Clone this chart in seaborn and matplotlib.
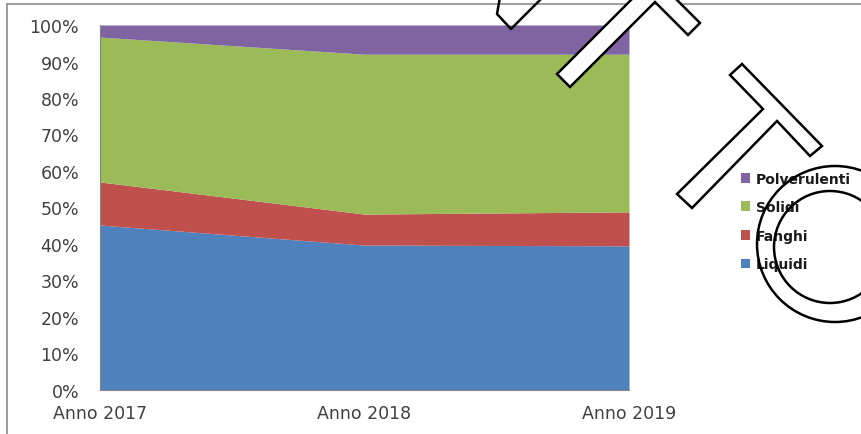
import numpy as np
import pandas as pd
import matplotlib
matplotlib.use("Agg")
import matplotlib.pyplot as plt
import seaborn as sns
from matplotlib.patches import Polygon, Patch, Ellipse
from matplotlib.lines import Line2D
from matplotlib.ticker import PercentFormatter

# data (percent of total)
anni = ["Anno 2017", "Anno 2018", "Anno 2019"]
liquidi = [45.2, 39.7, 39.5]
fanghi = [11.8, 8.5, 9.3]
solidi = [39.7, 43.8, 43.2]
polverulenti = [3.3, 8.0, 8.0]

serie = ["Liquidi", "Fanghi", "Solidi", "Polverulenti"]
colori = ["#4F81BD", "#C0504D", "#9BBB59", "#8064A2"]

df = pd.DataFrame({"Liquidi": liquidi, "Fanghi": fanghi,
                   "Solidi": solidi, "Polverulenti": polverulenti}, index=anni)
df = df.div(df.sum(axis=1), axis=0) * 100

sns.set_style("white")
plt.rcParams["font.family"] = ["DejaVu Sans"]

fig = plt.figure(figsize=(8.61, 4.35), dpi=100)
ax = fig.add_axes([100/861, 44/435, 529/861, 365/435])

x = np.arange(len(anni))
ax.stackplot(x, *[df[s].values for s in serie], colors=colori, linewidth=0)

ax.set_xlim(0, 2)
ax.set_ylim(0, 100)
ax.set_yticks(np.arange(0, 101, 10))
ax.yaxis.set_major_formatter(PercentFormatter(decimals=0))
ax.set_xticks(x)
ax.set_xticklabels(anni)
ax.tick_params(axis="both", length=4, width=0.8, color="#868686",
               labelsize=12.5, labelcolor="#404040")
ax.tick_params(axis="y", pad=11)
ax.tick_params(axis="x", pad=6)
for s in ["top", "right"]:
    ax.spines[s].set_visible(False)
ax.spines["left"].set_color("#868686")
ax.spines["bottom"].set_color("#868686")
ax.spines["left"].set_linewidth(0.8)
ax.spines["bottom"].set_linewidth(0.8)

# legend (reverse order like Excel)
handles = [Patch(facecolor=c, edgecolor="none") for c in colori][::-1]
leg = fig.legend(handles, serie[::-1], loc="upper left",
                 bbox_to_anchor=(728/861, 1 - 160/435), frameon=False,
                 handlelength=0.7, handleheight=0.7, handletextpad=0.4,
                 labelspacing=1.05, prop={"size": 10, "weight": "bold"})
for t in leg.get_texts():
    t.set_color("#1a1a1a")

# outer chart border
fig.add_artist(Line2D([7/861, 7/861], [0, 1 - 5/435], transform=fig.transFigure,
                      color="#8c8c8c", lw=1.2))
fig.add_artist(Line2D([7/861, 1], [1 - 5/435, 1 - 5/435], transform=fig.transFigure,
                      color="#8c8c8c", lw=1.2))

# watermark outlines drawn over the chart (pixel coordinates)
def px(pts):
    return [(xx / 861, 1 - yy / 435) for xx, yy in pts]

t1 = [(500, -2), (497, 15), (511, 30), (543, -2)]
t2 = [(557, 75), (642, -10), (621, -31), (633, -43), (700, 24), (688, 36), (655, 3), (570, 88)]
t3 = [(677, 195), (763, 110), (730, 76), (742, 65), (822, 147), (810, 157), (777, 122), (692, 209)]

fig.add_artist(Line2D(*zip(*px(t1)), transform=fig.transFigure, color="black", lw=1.8))
for poly in (t2, t3):
    fig.add_artist(Polygon(px(poly), closed=True, transform=fig.transFigure,
                           facecolor="white", edgecolor="black", lw=1.8, zorder=5))

# the "O": two ellipses in pixel space
fig.add_artist(Ellipse((835/861, 1 - 245/435), 156/861, 156/435,
                       transform=fig.transFigure, fill=False, edgecolor="black", lw=1.8, zorder=6))
fig.add_artist(Ellipse((830/861, 1 - 248/435), 112/861, 112/435,
                       transform=fig.transFigure, fill=False, edgecolor="black", lw=1.8, zorder=6))

fig.savefig("out.png", dpi=100)
